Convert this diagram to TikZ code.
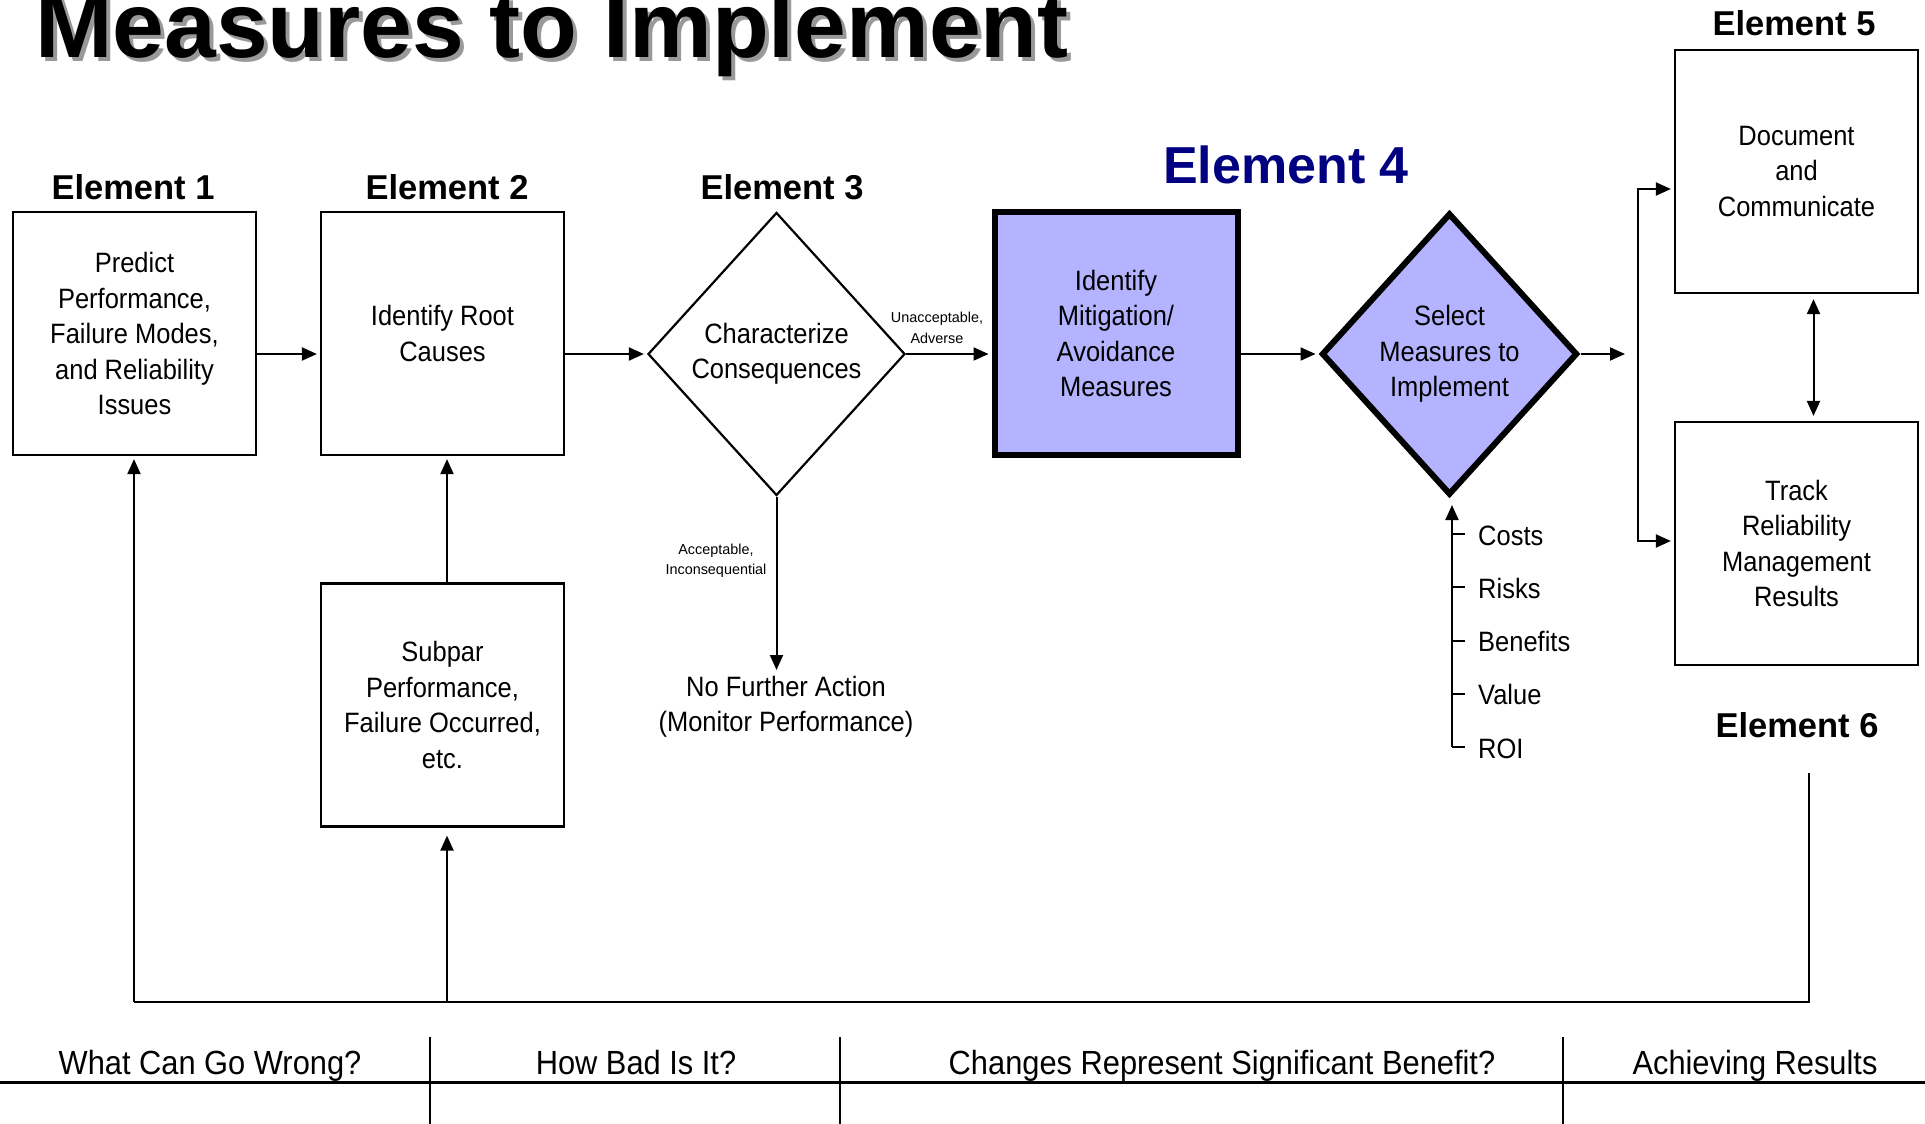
\documentclass[tikz,border=0pt]{standalone}
\usepackage{fontspec}
\setmainfont{Liberation Sans}
\newfontfamily\narrowf[FakeStretch=0.91]{Liberation Sans}
\newfontfamily\narrowb[FakeStretch=0.92]{Liberation Sans}
\usetikzlibrary{arrows.meta,shapes.geometric}
\definecolor{efill}{RGB}{179,179,255}
\definecolor{enavy}{RGB}{0,0,128}
\newcommand\bxf{\narrowf\fontsize{28}{35.5}\selectfont}
\newcommand\elf{\fontsize{34.5}{40}\selectfont\bfseries}
\newcommand\elbig{\fontsize{52}{60}\selectfont\bfseries}
\newcommand\smf{\fontsize{14.4}{20.5}\selectfont}
\newcommand\btf{\narrowb\fontsize{33.5}{38}\selectfont}
\newcommand\ttlf{\fontsize{93}{100}\selectfont\bfseries}
\begin{document}
\begin{tikzpicture}[x=1pt,y=-1pt,
  box/.style={draw, line width=2.2pt, minimum width=243pt, minimum height=243pt, inner sep=0pt, align=center, font=\bxf},
  dia/.style={draw, shape=diamond, line width=2.2pt, inner sep=0pt, align=center, font=\bxf},
  hl/.style={fill=efill, line width=6pt},
  ln/.style={line width=2pt},
  arr/.style={line width=2pt, -{Triangle[length=15pt,width=13pt]}, shorten >=3pt},
  darr/.style={line width=2pt, {Triangle[length=15pt,width=13pt]}-{Triangle[length=15pt,width=13pt]}, shorten >=5pt, shorten <=5pt},
  elab/.style={anchor=base, font=\elf, inner sep=0pt},
  slab/.style={align=center, font=\smf, inner sep=0pt},
  item/.style={anchor=base west, font=\bxf, inner sep=0pt},
  btm/.style={anchor=base, font=\btf, inner sep=0pt}
]
\useasboundingbox (0,0) rectangle (1925,1124);

% title with shadow
\node[anchor=base west, font=\ttlf, inner sep=0pt, text=black!40] (titsh) at (39,62) {Measures to Implement};
\node[anchor=base west, font=\ttlf, inner sep=0pt] (tit) at (35,58) {Measures to Implement};

% element labels
\node[elab] (l1) at (133,199) {Element 1};
\node[elab] (l2) at (447,199) {Element 2};
\node[elab] (l3) at (782,199) {Element 3};
\node[elab, font=\elbig, text=enavy] (l4) at (1286,183) {Element 4};
\node[elab] (l5) at (1794,36) {Element 5};
\node[elab] (l6) at (1797,737) {Element 6};

% main nodes
\node[box] (e1) at (134.5,333.5) {Predict\\Performance,\\Failure Modes,\\and Reliability\\Issues};
\node[box] (e2) at (442.5,333.5) {Identify Root\\Causes};
\node[box] (sub) at (442.5,705) {Subpar\\Performance,\\Failure Occurred,\\etc.};
\node[dia, minimum width=257pt, minimum height=283pt] (d3) at (776.5,354) {Characterize\\Consequences};
\node[box, hl] (e4) at (1116,333.5) {Identify\\Mitigation/\\Avoidance\\Measures};
\node[dia, hl, minimum width=256pt, minimum height=282pt] (d4) at (1449.5,354) {Select\\Measures to\\Implement};
\node[box] (e5) at (1796.5,171.5) {Document\\and\\Communicate};
\node[box] (e6) at (1796.5,543.5) {Track\\Reliability\\Management\\Results};
\node[anchor=north, align=center, font=\bxf, inner sep=0pt] (nfa) at (786,676) {No Further Action\\(Monitor Performance)};

% small labels
\node[slab] (ua) at (937,328) {Unacceptable,\\Adverse};
\node[slab] (ac) at (716,561) {Acceptable,\\Inconsequential};

% connectors
\draw[arr] (e1.east |- d3.center) -- (e2.west |- d3.center);
\draw[arr] (e2.east |- d3.center) -- (d3.west);
\draw[arr] (d3.east) -- (e4.west |- d3.center);
\draw[arr] (e4.east |- d4.center) -- (d4.west);
\coordinate (outr) at (1625,354);
\draw[arr, shorten >=0pt] (d4.east) -- (outr);
\draw[arr, shorten >=6pt] (d3.south) -- (d3.south |- nfa.north);

% bracket to elements 5 and 6
\coordinate (bt) at (1638,189);
\coordinate (bb) at (1638,541);
\draw[arr] (bb) |- (e5.west |- bt);
\draw[arr] (bt) |- (e6.west |- bb);
\draw[darr] ([xshift=17pt]e5.south) -- ([xshift=17pt]e6.north);

% criteria list
\coordinate (cb) at (1452,747);
\draw[arr, shorten >=7pt] (cb) -- (cb |- d4.south);
\foreach \yy/\tx/\nm in {534/Costs/c1, 587.25/Risks/c2, 640.5/Benefits/c3, 693.75/Value/c4, 747/ROI/c5}{
  \draw[ln] (1452,\yy) -- (1465,\yy);
  \node[item] (\nm) at (1478,\yy+11) {\tx};
}

% feedback loop
\coordinate (fbtop) at (1809,773);
\coordinate (fbl) at (134,1002);
\coordinate (fbm) at (447,1002);
\draw[line width=2.6pt] (fbtop) |- (fbl);
\draw[arr] (fbl) -- (fbl |- e1.south);
\draw[arr, shorten >=8pt] (fbm) -- (fbm |- sub.south);
\draw[arr] (fbm |- sub.north) -- (fbm |- e2.south);

% bottom table
\draw[line width=3pt] (0,1082) -- (1925,1082);
\foreach \xx in {430,840,1563}{\draw[ln] (\xx,1037) -- (\xx,1124);}
\node[btm] (b1) at (210,1074) {What Can Go Wrong?};
\node[btm] (b2) at (636,1074) {How Bad Is It?};
\node[btm] (b3) at (1222,1074) {Changes Represent Significant Benefit?};
\node[btm] (b4) at (1755,1074) {Achieving Results};
\end{tikzpicture}
\end{document}
